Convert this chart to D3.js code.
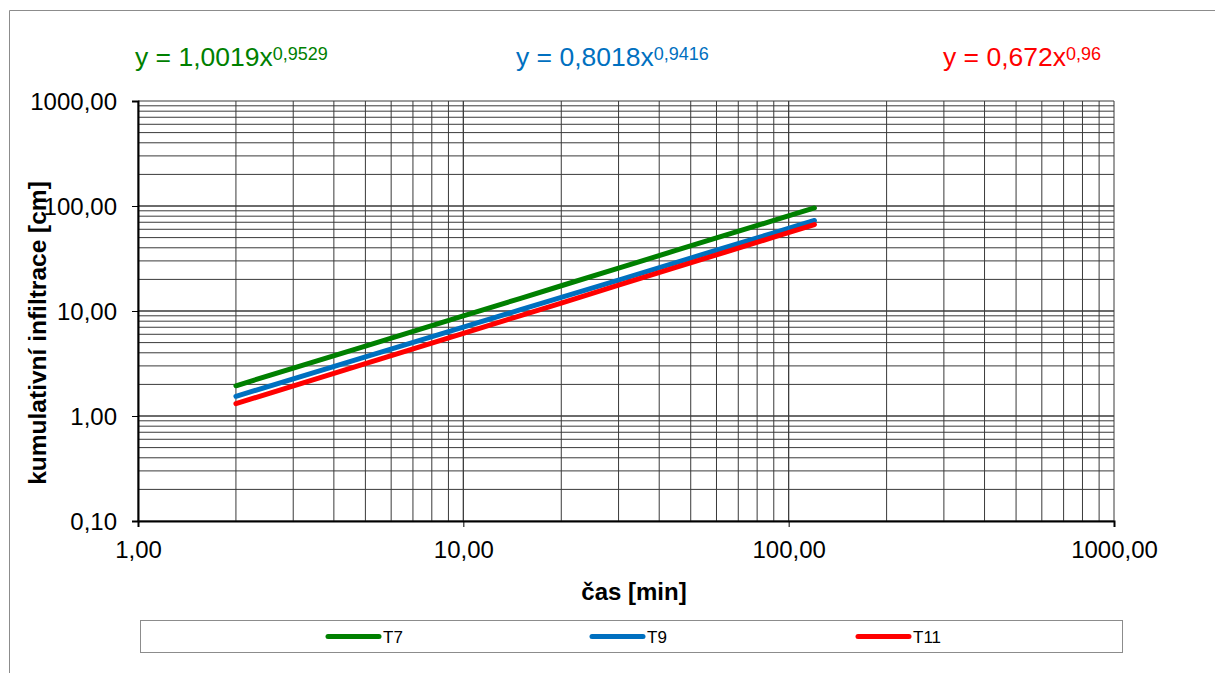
<!DOCTYPE html>
<html>
<head>
<meta charset="utf-8">
<script src="https://cdn.jsdelivr.net/npm/d3@7"></script>
<style>
body { margin: 0; background: #fff; }
text { font-family: "Liberation Sans", Arial, sans-serif; }
</style>
</head>
<body>
<div id="chart"></div>
<script>
// values (time in min, cumulative infiltration in cm)
const time = [2, 5, 10, 15, 20, 30, 45, 60, 90, 120]
const t7 = [1.94, 4.64, 8.99, 13.2, 17.4, 25.6, 37.7, 49.6, 72.9, 95.8]
const t9 = [1.54, 3.65, 7.01, 10.3, 13.5, 19.7, 28.9, 37.9, 55.5, 72.8]
const t11 = [1.31, 3.15, 6.13, 9.04, 11.9, 17.6, 26.0, 34.2, 50.5, 66.6]
const seriesNames = ['T7', 'T9', 'T11']
const seriesColors = ['#008000', '#0070C0', '#FF0000']
const eqBase = ['y = 1,0019x', 'y = 0,8018x', 'y = 0,672x']
const eqExp = ['0,9529', '0,9416', '0,96']
const xTicks = [1, 10, 100, 1000]
const yTicks = [0.1, 1, 10, 100, 1000]

const W = 1215, H = 673
const svg = d3.select('#chart').append('svg').attr('width', W).attr('height', H)

const x = d3.scaleLog().domain([1, 1000]).range([138, 1114])
const y = d3.scaleLog().domain([0.1, 1000]).range([521, 101])
const fmt = v => d3.format('.2f')(v).replace('.', ',')

// outer frame
svg.append('path')
	.attr('d', 'M9.5,' + H + ' V10.5 H' + W)
	.attr('fill', 'none')
	.attr('stroke', '#8c8c8c')
	.attr('stroke-width', 1)

// minor + major grid
let xGrid = [], yGrid = []
for (let d = 1; d < 1000; d *= 10) for (let k = 1; k <= 10; k++) xGrid.push(k * d)
for (let d = 0.1; d < 999; d *= 10) for (let k = 1; k <= 10; k++) yGrid.push(+(k * d).toPrecision(3))

const grid = svg.append('g')
grid.selectAll('.gx').data(xGrid).enter().append('line')
	.attr('x1', d => x(d)).attr('x2', d => x(d))
	.attr('y1', y(1000)).attr('y2', y(0.1))
	.attr('stroke', '#3a3a3a').attr('stroke-width', 1)
grid.selectAll('.gy').data(yGrid).enter().append('line')
	.attr('x1', x(1)).attr('x2', x(1000))
	.attr('y1', d => y(d)).attr('y2', d => y(d))
	.attr('stroke', '#3a3a3a').attr('stroke-width', 1)

// axes
const xAxis = svg.append('g').attr('transform', 'translate(0,' + y(0.1) + ')')
	.call(d3.axisBottom(x).tickValues(xTicks).tickFormat(fmt).tickSize(6).tickPadding(14))
const yAxis = svg.append('g').attr('transform', 'translate(' + x(1) + ',0)')
	.call(d3.axisLeft(y).tickValues(yTicks).tickFormat(fmt).tickSize(6).tickPadding(15))
;[xAxis, yAxis].forEach(a => {
	a.select('.domain').attr('stroke', '#000').attr('stroke-width', 2)
	a.selectAll('.tick line').attr('stroke', '#000')
	a.selectAll('.tick text').attr('fill', '#000').style('font-size', '24px')
		.style('font-family', '"Liberation Sans", Arial, sans-serif')
})
yAxis.selectAll('.tick text').attr('dy', '0.36em')

// axis titles
svg.append('text')
	.attr('x', 634).attr('y', 600)
	.attr('text-anchor', 'middle')
	.style('font-size', '24px').style('font-weight', 'bold')
	.text('čas [min]')
svg.append('text')
	.attr('transform', 'translate(46,333) rotate(-90)')
	.attr('text-anchor', 'middle')
	.style('font-size', '24.5px').style('font-weight', 'bold')
	.text('kumulativní infiltrace [cm]')

// series
const allSeries = [t7, t9, t11]
const line = d3.line().x((d, i) => x(time[i])).y(d => y(d))
allSeries.forEach((vals, i) => {
	svg.append('path')
		.datum(vals)
		.attr('d', line)
		.attr('fill', 'none')
		.attr('stroke', seriesColors[i])
		.attr('stroke-width', 5)
		.attr('stroke-linecap', 'round')
})

// trendline equations
const eqX = [135, 516, 943]
eqBase.forEach((t, i) => {
	let tx = svg.append('text')
		.attr('x', eqX[i]).attr('y', 66)
		.attr('fill', seriesColors[i])
		.style('font-size', '26.5px')
	tx.append('tspan').text(t)
	tx.append('tspan').attr('dy', -6).style('font-size', '18px').text(eqExp[i])
})

// legend
svg.append('rect')
	.attr('x', 140.5).attr('y', 620.5)
	.attr('width', 982).attr('height', 32)
	.attr('fill', '#fff').attr('stroke', '#8c8c8c')
const legX = [326, 590, 856]
seriesNames.forEach((n, i) => {
	svg.append('line')
		.attr('x1', legX[i] + 2).attr('x2', legX[i] + 53)
		.attr('y1', 636.5).attr('y2', 636.5)
		.attr('stroke', seriesColors[i]).attr('stroke-width', 5)
		.attr('stroke-linecap', 'round')
	svg.append('text')
		.attr('x', legX[i] + 57).attr('y', 643)
		.style('font-size', '17px')
		.text(n)
})
</script>
</body>
</html>
